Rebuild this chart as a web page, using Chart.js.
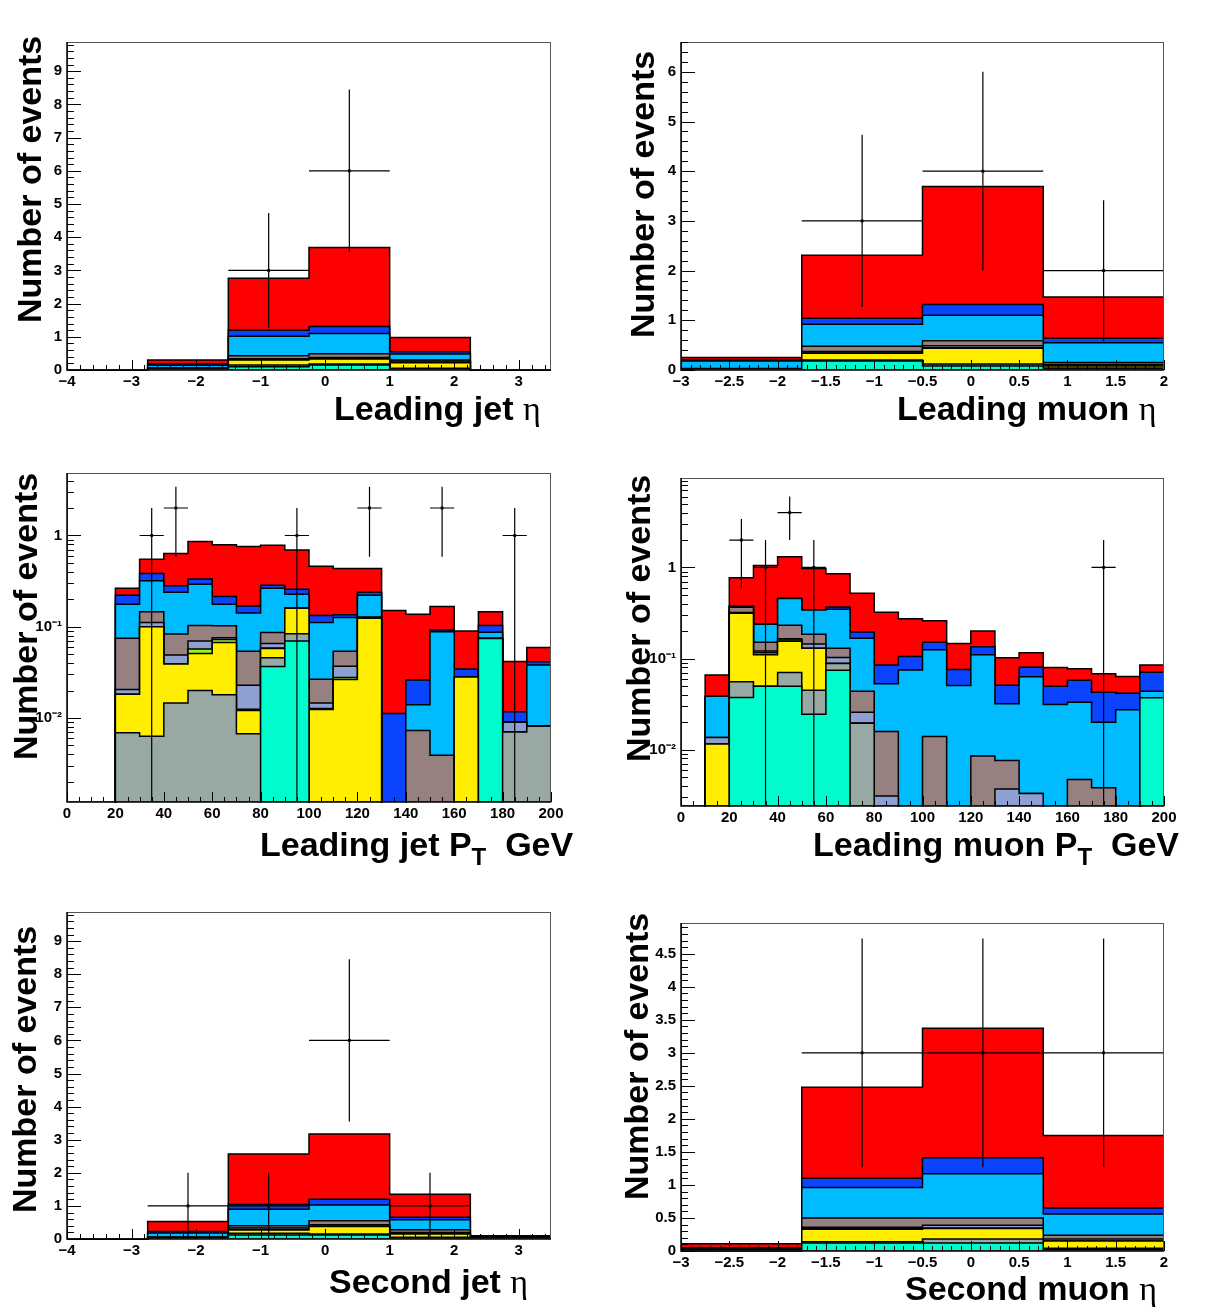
<!DOCTYPE html>
<html lang="en">
<head>
<meta charset="UTF-8">
<title>Jet and muon kinematics</title>
<script src="https://cdn.jsdelivr.net/npm/chart.js"></script>
<style>
  body { margin: 0; background: #fff; }
  #page { position: relative; width: 1211px; height: 1307px; overflow: hidden; background: #fff; }
  #page canvas { position: absolute; left: 0; top: 0; }
</style>
</head>
<body>
<div id="page">
  <canvas id="leadJetEta" width="1211" height="1307"></canvas>
  <canvas id="leadMuEta" width="1211" height="1307"></canvas>
  <canvas id="leadJetPt" width="1211" height="1307"></canvas>
  <canvas id="leadMuPt" width="1211" height="1307"></canvas>
  <canvas id="secJetEta" width="1211" height="1307"></canvas>
  <canvas id="secMuEta" width="1211" height="1307"></canvas>
</div>
<script>
// ---- binning ----
const jetEtaEdges = [-4, -2.75, -1.5, -0.25, 1.0, 2.25, 3.5];
const muEtaEdges = [-3, -1.75, -0.5, 0.75, 2.0];
const ptEdges = [0, 10, 20, 30, 40, 50, 60, 70, 80, 90, 100, 110, 120, 130, 140, 150, 160, 170, 180, 190, 200];

// ---- tick labels ----
const jetEtaTicks = [-4, -3, -2, -1, 0, 1, 2, 3];
const muEtaTicks = [-3, -2.5, -2, -1.5, -1, -0.5, 0, 0.5, 1, 1.5, 2];
const ptTicks = [0, 20, 40, 60, 80, 100, 120, 140, 160, 180, 200];
const count9Ticks = [0, 1, 2, 3, 4, 5, 6, 7, 8, 9];
const count6Ticks = [0, 1, 2, 3, 4, 5, 6];
const count45Ticks = [0, 0.5, 1, 1.5, 2, 2.5, 3, 3.5, 4, 4.5];
const logTicks = [0.01, 0.1, 1];
const logTickLabels = ['10\u207B\u00B2', '10\u207B\u00B9', '1'];

// samples, stacked bottom to top
const layerColors = ['#00fccc', '#97a9a2', '#ffee00', '#99f51e', '#8ea0d2', '#978080', '#00bbff', '#0a44ff', '#ff0000'];

// stacked (cumulative) expectation per bin, one row per sample
const leadJetEtaStack = [
  [0, 0.03, 0.10, 0.15, 0.02, 0],
  [0, 0.04, 0.15, 0.18, 0.05, 0],
  [0, 0.05, 0.30, 0.33, 0.22, 0],
  [0, 0.05, 0.31, 0.34, 0.23, 0],
  [0, 0.06, 0.34, 0.38, 0.27, 0],
  [0, 0.07, 0.43, 0.49, 0.30, 0],
  [0, 0.14, 1.02, 1.10, 0.48, 0],
  [0, 0.19, 1.20, 1.31, 0.55, 0],
  [0, 0.30, 2.76, 3.69, 0.98, 0]
];
const leadJetEtaCounts = [0, 0, 3, 6, 0, 0];

const leadMuEtaStack = [
  [0.02, 0.18, 0.08, 0.02],
  [0.02, 0.20, 0.12, 0.04],
  [0.02, 0.335, 0.44, 0.08],
  [0.02, 0.34, 0.45, 0.08],
  [0.02, 0.37, 0.49, 0.11],
  [0.03, 0.48, 0.59, 0.15],
  [0.18, 0.92, 1.10, 0.55],
  [0.20, 1.04, 1.32, 0.64],
  [0.25, 2.31, 3.69, 1.47]
];
const leadMuEtaCounts = [0, 3, 4, 2];

const leadJetPtStack = [
  [0, 0, 0, 0, 0, 0, 0, 0, 0.0367, 0.0696, 0, 0, 0, 0, 0, 0, 0, 0.0745, 0, 0],
  [0, 0, 0.0069, 0.0063, 0.0146, 0.020, 0.018, 0.0067, 0.0456, 0.0838, 0, 0, 0, 0, 0, 0, 0, 0.0745, 0.0070, 0.0081],
  [0, 0, 0.0182, 0.100, 0.039, 0.051, 0.067, 0.0121, 0.0578, 0.159, 0.0124, 0.0264, 0.124, 0, 0, 0, 0.0282, 0.0745, 0.0070, 0.0081],
  [0, 0, 0.0182, 0.100, 0.039, 0.057, 0.0726, 0.0125, 0.0585, 0.159, 0.0127, 0.0277, 0.125, 0, 0, 0, 0.0282, 0.0745, 0.0070, 0.0081],
  [0, 0, 0.0205, 0.111, 0.049, 0.0696, 0.0755, 0.0229, 0.0656, 0.159, 0.0146, 0.037, 0.126, 0, 0, 0, 0.0282, 0.0745, 0.0090, 0.0081],
  [0, 0, 0.075, 0.146, 0.083, 0.103, 0.1026, 0.054, 0.0867, 0.159, 0.0266, 0.054, 0.128, 0, 0.0073, 0.0039, 0.0282, 0.0745, 0.0090, 0.0081],
  [0, 0, 0.176, 0.32, 0.238, 0.292, 0.176, 0.141, 0.264, 0.227, 0.111, 0.126, 0.221, 0, 0.014, 0.088, 0.0282, 0.087, 0.0090, 0.038],
  [0, 0, 0.221, 0.382, 0.282, 0.334, 0.214, 0.169, 0.285, 0.257, 0.133, 0.135, 0.238, 0.0112, 0.026, 0.092, 0.0345, 0.103, 0.0117, 0.0413],
  [0, 0, 0.264, 0.55, 0.634, 0.859, 0.79, 0.757, 0.783, 0.695, 0.46, 0.434, 0.434, 0.151, 0.137, 0.167, 0.0896, 0.146, 0.0416, 0.0593]
];
const leadJetPtCounts = [0, 0, 0, 1, 2, 0, 0, 0, 0, 1, 0, 0, 2, 0, 0, 2, 0, 0, 1, 0];

const leadMuPtStack = [
  [0, 0, 0.0373, 0.0497, 0.0497, 0.0245, 0.0744, 0, 0, 0, 0, 0, 0, 0, 0, 0, 0, 0, 0, 0.037],
  [0, 0, 0.0554, 0.0497, 0.070, 0.0449, 0.088, 0.0195, 0, 0, 0, 0, 0, 0, 0, 0, 0, 0, 0, 0.037],
  [0, 0.0115, 0.315, 0.110, 0.155, 0.130, 0.088, 0.0195, 0, 0, 0, 0, 0, 0, 0, 0, 0, 0, 0, 0.037],
  [0, 0.0115, 0.315, 0.116, 0.160, 0.130, 0.088, 0.0195, 0, 0, 0, 0, 0, 0, 0, 0, 0, 0, 0, 0.037],
  [0, 0.0136, 0.320, 0.121, 0.165, 0.144, 0.1026, 0.0257, 0.0031, 0, 0, 0, 0, 0.0037, 0.0033, 0, 0, 0, 0, 0.037],
  [0, 0.0136, 0.366, 0.151, 0.232, 0.185, 0.130, 0.0438, 0.0158, 0, 0.0139, 0, 0.0085, 0.0076, 0.0033, 0, 0.0047, 0.0038, 0, 0.037],
  [0, 0.0386, 0.370, 0.238, 0.456, 0.340, 0.348, 0.167, 0.0527, 0.075, 0.125, 0.0505, 0.110, 0.0318, 0.063, 0.0313, 0.0331, 0.020, 0.0273, 0.0438],
  [0, 0.0386, 0.375, 0.240, 0.460, 0.342, 0.367, 0.196, 0.085, 0.105, 0.151, 0.0757, 0.135, 0.051, 0.080, 0.0497, 0.0578, 0.0427, 0.0416, 0.0708],
  [0, 0.066, 0.77, 1.05, 1.31, 0.975, 0.85, 0.522, 0.323, 0.273, 0.26, 0.146, 0.20, 0.102, 0.116, 0.0796, 0.077, 0.068, 0.0634, 0.085]
];
const leadMuPtCounts = [0, 0, 2, 1, 4, 1, 0, 0, 0, 0, 0, 0, 0, 0, 0, 0, 0, 1, 0, 0];

const secJetEtaStack = [
  [0, 0.02, 0.12, 0.12, 0.02, 0.02],
  [0, 0.03, 0.17, 0.15, 0.05, 0.02],
  [0, 0.04, 0.27, 0.38, 0.15, 0.03],
  [0, 0.04, 0.28, 0.39, 0.16, 0.03],
  [0, 0.05, 0.33, 0.43, 0.20, 0.03],
  [0, 0.06, 0.40, 0.55, 0.28, 0.04],
  [0, 0.18, 0.90, 1.03, 0.58, 0.07],
  [0, 0.23, 1.04, 1.20, 0.66, 0.08],
  [0, 0.53, 2.57, 3.17, 1.35, 0.10]
];
const secJetEtaCounts = [0, 1, 1, 6, 1, 0];

const secMuEtaStack = [
  [0, 0.12, 0.12, 0.02],
  [0.01, 0.14, 0.18, 0.04],
  [0.02, 0.33, 0.34, 0.15],
  [0.02, 0.34, 0.35, 0.15],
  [0.03, 0.36, 0.39, 0.18],
  [0.04, 0.50, 0.50, 0.24],
  [0.04, 0.96, 1.17, 0.56],
  [0.05, 1.10, 1.41, 0.65],
  [0.11, 2.48, 3.37, 1.75]
];
const secMuEtaCounts = [0, 3, 3, 3];

// ---- helpers ----
const PAGE_W = 1211, PAGE_H = 1307;
const Y_W = 60, X_H = 30;
const LOG_FLOOR = 1e-4;
const TICK_FONT = { family: '"Liberation Sans", Arial, sans-serif', weight: 'bold', size: 15 };
const TITLE_FONT = 'bold 34px "Liberation Sans", Arial, sans-serif';
const SUB_FONT = 'bold 24px "Liberation Sans", Arial, sans-serif';
const ETA_FONT = '34px "Liberation Serif", "DejaVu Serif", serif';

function minus(v) { return String(v).replace('-', '\u2212'); }

function steps(a, b, step) {
  const out = [];
  for (let k = 0; a + k * step <= b + 1e-9; k++) out.push(+(a + k * step).toFixed(6));
  return out;
}

function logMinor(min, max) {
  const out = [];
  for (let e = -4; e <= 1; e++) {
    for (let k = 2; k <= 9; k++) {
      const v = k * Math.pow(10, e);
      if (v > min && v < max) out.push(v);
    }
  }
  return out;
}

// histogram outline: value i holds from edge i to edge i+1
function stepPoints(edges, vals, floor) {
  const pts = vals.map((v, i) => ({ x: edges[i], y: v > 0 ? v : floor }));
  const last = vals[vals.length - 1];
  pts.push({ x: edges[edges.length - 1], y: last > 0 ? last : floor });
  return pts;
}

// data error bars: bin width horizontally, sqrt(N) vertically
function errorBars(edges, counts, floor) {
  const pts = [];
  counts.forEach((n, i) => {
    if (n <= 0) return;
    const c = (edges[i] + edges[i + 1]) / 2, e = Math.sqrt(n);
    const lo = n - e > 0 ? n - e : floor;
    pts.push({ x: edges[i], y: n }, { x: edges[i + 1], y: n }, { x: c, y: null });
    pts.push({ x: c, y: lo }, { x: c, y: n + e }, { x: c, y: null });
  });
  return pts;
}

function markers(edges, counts) {
  const pts = [];
  counts.forEach((n, i) => { if (n > 0) pts.push({ x: (edges[i] + edges[i + 1]) / 2, y: n }); });
  return pts;
}

function drawParts(ctx, x, y, parts) {
  parts.forEach(p => {
    ctx.font = p.font;
    ctx.fillText(p.text, x, y + (p.dy || 0));
    x += ctx.measureText(p.text).width;
  });
}

// frame, inward ticks and axis titles, ROOT style
function axesPlugin(p) {
  return {
    id: 'rootAxes',
    afterDatasetsDraw(chart) {
      const { ctx, chartArea: a, scales: { x, y } } = chart;
      ctx.save();
      ctx.strokeStyle = '#555';
      ctx.lineWidth = 1;
      ctx.strokeRect(a.left + 0.5, a.top + 0.5, a.right - a.left - 1, a.bottom - a.top - 1);

      ctx.strokeStyle = '#000';
      ctx.beginPath();
      const xt = (v, len) => {
        if (v < x.min || v > x.max) return;
        const px = Math.round(x.getPixelForValue(v)) + 0.5;
        ctx.moveTo(px, a.bottom);
        ctx.lineTo(px, a.bottom - len);
      };
      const yt = (v, len) => {
        if (v < y.min || v > y.max) return;
        const py = Math.round(y.getPixelForValue(v)) + 0.5;
        ctx.moveTo(a.left, py);
        ctx.lineTo(a.left + len, py);
      };
      p.xMinor.forEach(v => xt(v, 5));
      p.xMajor.forEach(v => xt(v, 10));
      p.yMinor.forEach(v => yt(v, 7));
      p.yMajor.forEach(v => yt(v, 14));
      ctx.stroke();

      ctx.lineWidth = 1.5;
      ctx.beginPath();
      ctx.moveTo(a.left, a.top);
      ctx.lineTo(a.left, a.bottom);
      ctx.lineTo(a.right, a.bottom);
      ctx.stroke();
      ctx.restore();
    },
    afterDraw(chart) {
      const ctx = chart.ctx;
      ctx.save();
      ctx.fillStyle = '#000';
      ctx.textBaseline = 'alphabetic';
      ctx.textAlign = 'left';
      drawParts(ctx, p.xTitle.x, p.xTitle.y, p.xTitle.parts);
      ctx.translate(p.yTitle.x, p.yTitle.y);
      ctx.rotate(-Math.PI / 2);
      ctx.font = TITLE_FONT;
      ctx.fillText('Number of events', 0, 0);
      ctx.restore();
    }
  };
}

function makePanel(p) {
  const log = p.yType === 'logarithmic';
  const floor = log ? LOG_FLOOR : 0;
  const datasets = [];

  datasets.push({
    data: markers(p.edges, p.counts),
    showLine: false,
    pointStyle: 'rect',
    pointRadius: 2,
    pointBackgroundColor: '#000',
    pointBorderWidth: 0,
    order: -1
  });
  datasets.push({
    data: errorBars(p.edges, p.counts, floor),
    borderColor: '#000',
    borderWidth: 1.2,
    pointRadius: 0,
    fill: false,
    spanGaps: false,
    clip: 0,
    order: 0
  });
  p.stack.forEach((vals, i) => {
    datasets.push({
      data: stepPoints(p.edges, vals, floor),
      stepped: true,
      fill: 'start',
      backgroundColor: layerColors[i],
      borderColor: '#000',
      borderWidth: 1.5,
      pointRadius: 0,
      clip: 1,
      order: i + 1
    });
  });

  const f = p.frame;
  new Chart(document.getElementById(p.id), {
    type: 'line',
    data: { datasets },
    options: {
      responsive: false,
      animation: false,
      devicePixelRatio: 1,
      events: [],
      layout: {
        padding: { left: f.l - Y_W, right: PAGE_W - f.r, top: f.t, bottom: PAGE_H - f.b - X_H }
      },
      plugins: { legend: { display: false }, tooltip: { enabled: false } },
      scales: {
        x: {
          type: 'linear',
          min: p.xMin, max: p.xMax,
          grid: { display: false, drawTicks: false },
          border: { display: false },
          afterBuildTicks: s => { s.ticks = p.xMajor.map(v => ({ value: v })); },
          afterFit: s => { s.height = X_H; },
          ticks: { autoSkip: false, maxRotation: 0, padding: 3, color: '#000', font: TICK_FONT, callback: v => minus(v) }
        },
        y: {
          type: p.yType,
          min: p.yMin, max: p.yMax,
          grid: { display: false, drawTicks: false },
          border: { display: false },
          afterBuildTicks: s => { s.ticks = p.yMajor.map(v => ({ value: v })); },
          afterFit: s => { s.width = Y_W; },
          ticks: {
            autoSkip: false, padding: 5, color: '#000', font: TICK_FONT,
            callback: v => log ? logTickLabels[logTicks.indexOf(v)] : String(v)
          }
        }
      }
    },
    plugins: [axesPlugin(p)]
  });
}

const eta = { text: '\u03B7', font: ETA_FONT };

makePanel({
  id: 'leadJetEta', edges: jetEtaEdges, stack: leadJetEtaStack, counts: leadJetEtaCounts,
  frame: { l: 67, r: 551, t: 42, b: 370 },
  xMin: -4, xMax: 3.5, xMajor: jetEtaTicks, xMinor: steps(-4, 3.5, 0.2),
  yType: 'linear', yMin: 0, yMax: 9.88, yMajor: count9Ticks, yMinor: steps(0, 9.8, 0.2),
  xTitle: { x: 334, y: 420, parts: [{ text: 'Leading jet ', font: TITLE_FONT }, eta] },
  yTitle: { x: 41, y: 323 }
});

makePanel({
  id: 'leadMuEta', edges: muEtaEdges, stack: leadMuEtaStack, counts: leadMuEtaCounts,
  frame: { l: 681, r: 1164, t: 42, b: 370 },
  xMin: -3, xMax: 2, xMajor: muEtaTicks, xMinor: steps(-3, 2, 0.1),
  yType: 'linear', yMin: 0, yMax: 6.6, yMajor: count6Ticks, yMinor: steps(0, 6.6, 0.2),
  xTitle: { x: 897, y: 420, parts: [{ text: 'Leading muon ', font: TITLE_FONT }, eta] },
  yTitle: { x: 654, y: 338 }
});

makePanel({
  id: 'leadJetPt', edges: ptEdges, stack: leadJetPtStack, counts: leadJetPtCounts,
  frame: { l: 67, r: 551, t: 473, b: 802 },
  xMin: 0, xMax: 200, xMajor: ptTicks, xMinor: steps(0, 200, 5),
  yType: 'logarithmic', yMin: 0.0012, yMax: 4.84, yMajor: logTicks, yMinor: logMinor(0.0012, 4.84),
  xTitle: { x: 260, y: 856, parts: [
    { text: 'Leading jet P', font: TITLE_FONT }, { text: 'T', font: SUB_FONT, dy: 9 }, { text: '  GeV', font: TITLE_FONT }] },
  yTitle: { x: 37, y: 760 }
});

makePanel({
  id: 'leadMuPt', edges: ptEdges, stack: leadMuPtStack, counts: leadMuPtCounts,
  frame: { l: 681, r: 1164, t: 478, b: 806 },
  xMin: 0, xMax: 200, xMajor: ptTicks, xMinor: steps(0, 200, 5),
  yType: 'logarithmic', yMin: 0.0024, yMax: 9.6, yMajor: logTicks, yMinor: logMinor(0.0024, 9.6),
  xTitle: { x: 813, y: 856, parts: [
    { text: 'Leading muon P', font: TITLE_FONT }, { text: 'T', font: SUB_FONT, dy: 9 }, { text: '  GeV', font: TITLE_FONT }] },
  yTitle: { x: 650, y: 762 }
});

makePanel({
  id: 'secJetEta', edges: jetEtaEdges, stack: secJetEtaStack, counts: secJetEtaCounts,
  frame: { l: 67, r: 551, t: 912, b: 1239 },
  xMin: -4, xMax: 3.5, xMajor: jetEtaTicks, xMinor: steps(-4, 3.5, 0.2),
  yType: 'linear', yMin: 0, yMax: 9.88, yMajor: count9Ticks, yMinor: steps(0, 9.8, 0.2),
  xTitle: { x: 329, y: 1293, parts: [{ text: 'Second jet ', font: TITLE_FONT }, eta] },
  yTitle: { x: 36, y: 1213 }
});

makePanel({
  id: 'secMuEta', edges: muEtaEdges, stack: secMuEtaStack, counts: secMuEtaCounts,
  frame: { l: 681, r: 1164, t: 923, b: 1251 },
  xMin: -3, xMax: 2, xMajor: muEtaTicks, xMinor: steps(-3, 2, 0.1),
  yType: 'linear', yMin: 0, yMax: 4.965, yMajor: count45Ticks, yMinor: steps(0, 4.9, 0.1),
  xTitle: { x: 905, y: 1300, parts: [{ text: 'Second muon ', font: TITLE_FONT }, eta] },
  yTitle: { x: 648, y: 1200 }
});
</script>
</body>
</html>
